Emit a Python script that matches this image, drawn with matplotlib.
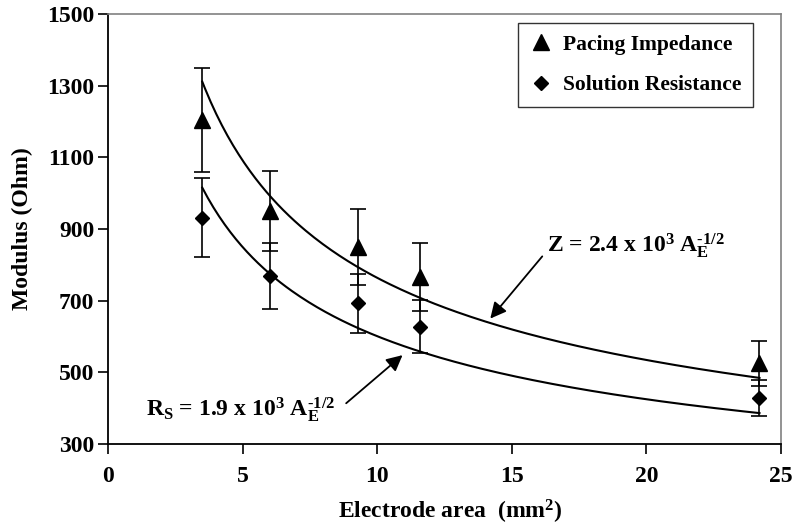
import numpy as np
import matplotlib
matplotlib.use("Agg")
from matplotlib import pyplot as plt

plt.rcParams['font.family'] = ['Liberation Serif', 'DejaVu Serif']
plt.rcParams['font.weight'] = 'bold'
plt.rcParams['mathtext.fontset'] = 'custom'
plt.rcParams['mathtext.rm'] = 'Liberation Serif:bold'
plt.rcParams['mathtext.bf'] = 'Liberation Serif:bold'
plt.rcParams['mathtext.it'] = 'Liberation Serif:bold'

# electrode areas (mm2)
area = [3.5, 6.0, 9.3, 11.6, 24.2]

# pacing impedance and its error
pacing = [1205, 950, 850, 767, 525]
pacing_err = [145, 112, 105, 95, 63]

# solution resistance and its error
solution = [931, 769, 693, 627, 429]
solution_err = [110, 93, 82, 74, 51]

# fit curves  y = a * A^-b
z_fit = (2500, 0.515)
rs_fit = (1900, 0.5)

fig = plt.figure(figsize=(7.96, 5.27), dpi=100)
ax = fig.add_axes([0.1357, 0.1575, 0.8455, 0.8159])

xx = np.linspace(area[0], area[-1], 200)
ax.plot(xx, z_fit[0] * xx ** -z_fit[1], color='black', lw=1.5)
ax.plot(xx, rs_fit[0] * xx ** -rs_fit[1], color='black', lw=1.5)

eb1 = ax.errorbar(area, pacing, yerr=pacing_err, fmt='^', color='black', ms=11,
                  capsize=6, elinewidth=1.2, capthick=1.2)
eb2 = ax.errorbar(area, solution, yerr=solution_err, fmt='D', color='black', ms=7.5,
                  capsize=6, elinewidth=1.2, capthick=1.2)

ax.set_xlim(0, 25)
ax.set_ylim(300, 1500)
ax.set_xticks([0, 5, 10, 15, 20, 25])
ax.set_yticks(range(300, 1501, 200))
ax.tick_params(direction='out', length=7, width=1.2, labelsize=17, pad=3)
ax.tick_params(axis='x', pad=9)
for lab in ax.get_xticklabels() + ax.get_yticklabels():
    lab.set_fontweight('bold')

for s in ['left', 'bottom']:
    ax.spines[s].set_linewidth(1.3)
    ax.spines[s].set_color('black')
for s in ['top', 'right']:
    ax.spines[s].set_linewidth(1.2)
    ax.spines[s].set_color('#808080')

ax.set_xlabel(r'Electrode area  (mm$^{2}$)', fontsize=17, fontweight='bold', labelpad=6)
ax.xaxis.set_label_coords(0.508, -0.125)
ax.set_ylabel('Modulus (Ohm)', fontsize=17, fontweight='bold', labelpad=10)

leg = ax.legend([eb1[0], eb2[0]], ['Pacing Impedance', 'Solution Resistance'],
                loc='upper right', fontsize=15.5, frameon=True, fancybox=False,
                edgecolor='black', handletextpad=0.5, borderpad=0.55,
                labelspacing=0.95, handlelength=1.0, bbox_to_anchor=(0.958, 0.979),
                borderaxespad=0)
leg.get_frame().set_linewidth(1.0)
for t in leg.get_texts():
    t.set_fontweight('bold')

ax.annotate(r'Z = 2.4 x 10$^{3}$ A$_{E}^{\text{-1/2}}$', xy=(14.2, 650), xytext=(16.3, 855),
            fontsize=17, fontweight='bold', va='center', ha='left',
            arrowprops=dict(arrowstyle='-|>', color='black', lw=1.3, mutation_scale=24,
                            shrinkA=2, shrinkB=0, relpos=(0, 0.3)))
ax.annotate(r'R$_{S}$ = 1.9 x 10$^{3}$ A$_{E}^{\text{-1/2}}$', xy=(10.94, 548), xytext=(1.4, 395),
            fontsize=17, fontweight='bold', va='center', ha='left',
            arrowprops=dict(arrowstyle='-|>', color='black', lw=1.3, mutation_scale=24,
                            shrinkA=8, shrinkB=0, relpos=(1, 0.4)))

fig.savefig('out.png', dpi=100)
